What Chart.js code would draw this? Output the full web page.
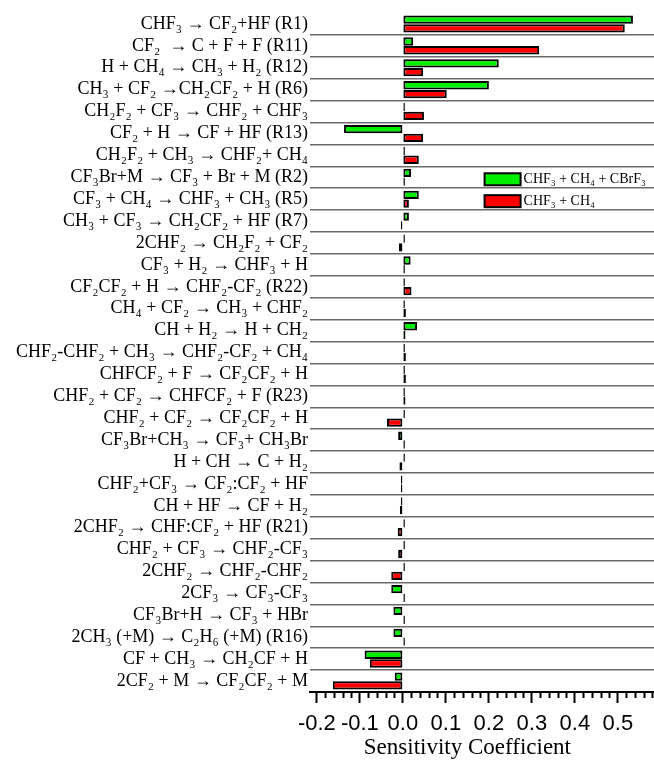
<!DOCTYPE html>
<html>
<head>
<meta charset="utf-8">
<script src="https://cdn.jsdelivr.net/npm/chart.js@4.4.1/dist/chart.umd.min.js"></script>
<style>
  html, body { margin: 0; padding: 0; background: #fff; overflow: hidden; }
  #wrap { width: 654px; height: 763px; position: relative; }
</style>
</head>
<body>
<div id="wrap"><canvas id="chart"></canvas></div>
<script>
// reactions, top to bottom
const reactions = [
  'CHF₃ → CF₂+HF (R1)',
  'CF₂  → C + F + F (R11)',
  'H + CH₄ → CH₃ + H₂ (R12)',
  'CH₃ + CF₂ →CH₂CF₂ + H (R6)',
  'CH₂F₂ + CF₃ → CHF₂ + CHF₃',
  'CF₂ + H → CF + HF (R13)',
  'CH₂F₂ + CH₃ → CHF₂+ CH₄',
  'CF₃Br+M → CF₃ + Br + M (R2)',
  'CF₃ + CH₄ → CHF₃ + CH₃ (R5)',
  'CH₃ + CF₃ → CH₂CF₂ + HF (R7)',
  '2CHF₂ → CH₂F₂ + CF₂',
  'CF₃ + H₂ → CHF₃ + H',
  'CF₂CF₂ + H → CHF₂-CF₂ (R22)',
  'CH₄ + CF₂ → CH₃ + CHF₂',
  'CH + H₂ → H + CH₂',
  'CHF₂-CHF₂ + CH₃ → CHF₂-CF₂ + CH₄',
  'CHFCF₂ + F → CF₂CF₂ + H',
  'CHF₂ + CF₂ → CHFCF₂ + F (R23)',
  'CHF₂ + CF₂ → CF₂CF₂ + H',
  'CF₃Br+CH₃ → CF₃+ CH₃Br',
  'H + CH → C + H₂',
  'CHF₂+CF₃ → CF₂:CF₂ + HF',
  'CH + HF → CF + H₂',
  '2CHF₂ → CHF:CF₂ + HF (R21)',
  'CHF₂ + CF₃ → CHF₂-CF₃',
  '2CHF₂ → CHF₂-CHF₂',
  '2CF₃ → CF₃-CF₃',
  'CF₃Br+H → CF₃ + HBr',
  '2CH₃ (+M) → C₂H₆ (+M) (R16)',
  'CF + CH₃ → CH₂CF + H',
  '2CF₂ + M → CF₂CF₂ + M'
];

// CHF3 + CH4 + CBrF3
const withCBrF3 = [
  0.535, 0.024, 0.223, 0.200, 0.002, -0.137, 0.002, 0.019, 0.037, 0.014,
  0.002, 0.018, 0.002, 0.002, 0.033, 0.002, 0.002, 0.001, 0.002, -0.011,
  0.001, -0.002, -0.002, 0.001, 0.001, 0.001, -0.027, -0.022, -0.022, -0.089,
  -0.019
];

// CHF3 + CH4
const withoutCBrF3 = [
  0.516, 0.317, 0.047, 0.102, 0.049, 0.047, 0.037, 0.001, 0.014, -0.004,
  -0.009, 0.002, 0.020, 0.007, 0.006, 0.007, 0.007, 0.006, -0.037, 0.001,
  -0.008, -0.002, -0.007, -0.012, -0.011, -0.027, 0.001, 0.001, 0.001, -0.077,
  -0.163
];

const xTicks = [-0.2, -0.1, 0.0, 0.1, 0.2, 0.3, 0.4, 0.5];

const GREEN = '#00ee00';
const RED = '#ff0000';

// tiny bars show up as a black sliver, like the original
function fillFor(color) {
  return ctx => Math.abs(ctx.raw) < 0.004 ? '#000' : color;
}

const extras = {
  id: 'extras',
  afterDraw(chart) {
    const ctx = chart.ctx;
    const x = chart.scales.x;
    const y = chart.scales.y;
    const base = chart.chartArea.bottom;

    // minor ticks every 0.02
    ctx.save();
    ctx.strokeStyle = '#000';
    ctx.lineWidth = 2;
    for (let i = -10; i <= 29; i++) {
      if (i % 5 === 0) continue;
      const px = Math.round(x.getPixelForValue(i * 0.02)) + 0.5;
      if (px < chart.chartArea.left || px > chart.chartArea.right) continue;
      ctx.beginPath();
      ctx.moveTo(px, base);
      ctx.lineTo(px, base + 6);
      ctx.stroke();
    }

    // axis title, centred on the labelled range
    ctx.fillStyle = '#000';
    ctx.font = '23px "Liberation Serif", "Times New Roman", serif';
    ctx.textAlign = 'center';
    ctx.textBaseline = 'middle';
    ctx.fillText('Sensitivity Coefficient', x.getPixelForValue(0.15), 748);

    // legend inside the plot
    const bx = x.getPixelForValue(0.19);
    ctx.font = '14px "Liberation Serif", "Times New Roman", serif';
    ctx.textAlign = 'left';
    chart.data.datasets.forEach((ds, i) => {
      const cy = y.getPixelForValue(7 + i) + 2;
      ctx.fillStyle = ds.legendColor;
      ctx.fillRect(bx, cy - 6, 36, 12);
      ctx.lineWidth = 2;
      ctx.strokeStyle = '#000';
      ctx.strokeRect(bx, cy - 6, 36, 12);
      ctx.fillStyle = '#000';
      ctx.fillText(ds.label, bx + 39, cy);
    });
    ctx.restore();
  }
};

new Chart(document.getElementById('chart'), {
  type: 'bar',
  data: {
    labels: reactions,
    datasets: [
      {
        label: 'CHF₃ + CH₄ + CBrF₃',
        data: withCBrF3,
        backgroundColor: fillFor(GREEN),
        legendColor: GREEN,
        borderColor: '#000',
        borderWidth: 2,
        borderSkipped: false,
        minBarLength: 2,
        categoryPercentage: 0.8,
        barPercentage: 0.95
      },
      {
        label: 'CHF₃ + CH₄',
        data: withoutCBrF3,
        backgroundColor: fillFor(RED),
        legendColor: RED,
        borderColor: '#000',
        borderWidth: 2,
        borderSkipped: false,
        minBarLength: 2,
        categoryPercentage: 0.8,
        barPercentage: 0.95
      }
    ]
  },
  options: {
    indexAxis: 'y',
    responsive: true,
    maintainAspectRatio: false,
    devicePixelRatio: 1,
    animation: false,
    layout: { padding: { top: 13, right: 0, left: 0, bottom: 0 } },
    plugins: {
      legend: { display: false },
      tooltip: { enabled: false }
    },
    scales: {
      x: {
        type: 'linear',
        min: -0.216,
        max: 0.584,
        afterFit(scale) { scale.height = 71; },
        afterBuildTicks(scale) { scale.ticks = xTicks.map(v => ({ value: v })); },
        border: { color: '#000', width: 2 },
        grid: {
          display: true,
          drawOnChartArea: false,
          drawTicks: true,
          tickLength: 11,
          tickWidth: 2,
          tickColor: '#000'
        },
        ticks: {
          autoSkip: false,
          maxRotation: 0,
          padding: 8,
          color: '#000',
          font: { family: '"Liberation Sans", Arial, sans-serif', size: 22 },
          callback: v => v.toFixed(1)
        }
      },
      y: {
        afterFit(scale) { scale.width = 310; },
        border: { display: false },
        grid: {
          offset: true,
          drawTicks: false,
          tickLength: 0,
          lineWidth: 1.5,
          color: ctx => ctx.index === 0 ? 'rgba(0,0,0,0)' : '#6a6a6a'
        },
        ticks: {
          autoSkip: false,
          padding: 2,
          color: '#000',
          font: { family: '"Liberation Serif", "Times New Roman", serif', size: 18 }
        }
      }
    }
  },
  plugins: [extras]
});
</script>
</body>
</html>
